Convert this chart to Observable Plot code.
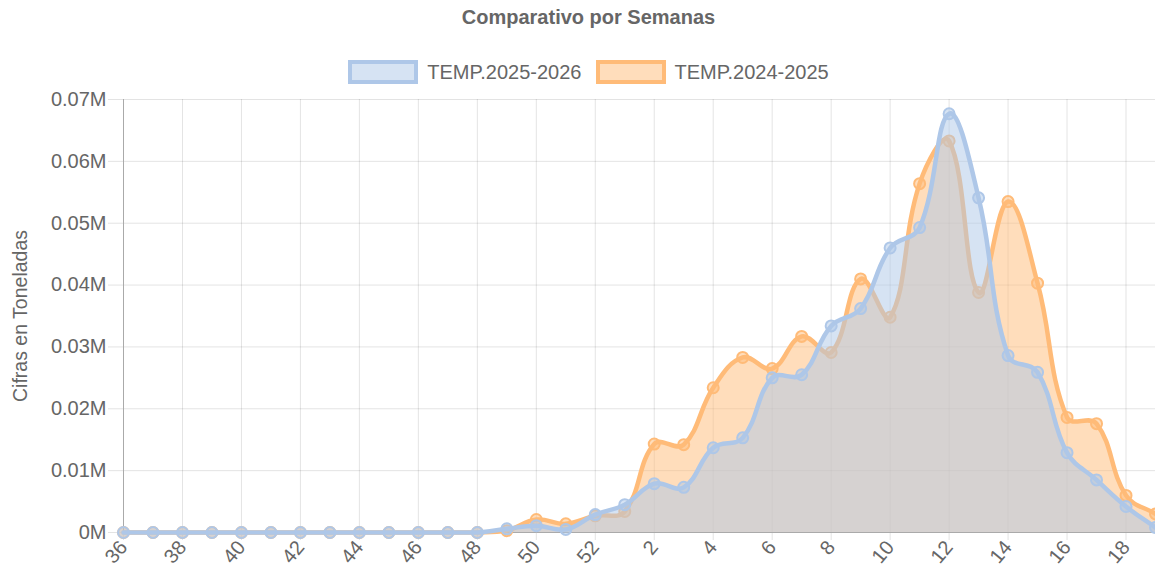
<!DOCTYPE html>
<html><head><meta charset="utf-8">
<script src="https://cdn.jsdelivr.net/npm/d3@7"></script>
<script src="https://cdn.jsdelivr.net/npm/@observablehq/plot@0.6"></script>
<style>
html,body{margin:0;padding:0;background:#fff;}
body{width:1155px;height:569px;overflow:hidden;font-family:'Liberation Sans',Arial,sans-serif;}
#title{height:34px;line-height:34px;text-align:center;font-weight:bold;font-size:20px;color:#666;padding-left:22px;}
#legend{height:40px;margin-top:18px;display:flex;justify-content:center;align-items:center;gap:14px;padding-left:22px;font-size:20px;color:#666;}
.item{display:flex;align-items:center;gap:9px;}
.sw{width:62px;height:16px;border:4px solid;}
#chart svg{display:block;}
</style>
</head><body>
<div id="title">Comparativo por Semanas</div>
<div id="legend"></div>
<div id="chart"></div>
<script>
// ---- data ----
const weeks = [36,37,38,39,40,41,42,43,44,45,46,47,48,49,50,51,52,1,2,3,4,5,6,7,8,9,10,11,12,13,14,15,16,17,18,19];
const temp2526 = [0,0,0,0,0,0,0,0,0,0,0,0,0,600,1100,500,2900,4500,7900,7300,13700,15300,25000,25500,33400,36200,46000,49300,67700,54100,28600,25900,12900,8500,4200,800];
const temp2425 = [0,0,0,0,0,0,0,0,0,0,0,0,0,300,2100,1400,2700,3400,14300,14200,23400,28300,26500,31700,29100,41000,34800,56400,63300,38800,53500,40300,18600,17600,6000,3000];
const seriesNames = ["TEMP.2025-2026","TEMP.2024-2025"];
const yTicks = [0,10000,20000,30000,40000,50000,60000,70000];
const xTickIdx = weeks.map((d,i)=>i).filter(i=>i%2===0);
const yLabel = "Cifras en Toneladas";

const colors = {
  line: ["#aec7e8","#ffbb78"],
  fill: ["rgba(174,199,232,0.5)","rgba(255,187,120,0.5)"]
};

// legend
const leg = document.getElementById("legend");
seriesNames.forEach((n,i)=>{
  const it = document.createElement("div"); it.className="item";
  const sw = document.createElement("span"); sw.className="sw";
  sw.style.borderColor = colors.line[i]; sw.style.background = colors.fill[i];
  const tx = document.createElement("span"); tx.textContent = n;
  it.appendChild(sw); it.appendChild(tx); leg.appendChild(it);
});

const W=1155, H=477, mt=7, mb=37, ml=123, mr=0;

// Chart.js-like spline (tension 0.4) with control points capped to chart area
function chartjsCurve(tension){
  const minX=ml, maxX=W-mr, minY=mt, maxY=H-mb;
  const cx = v=>Math.max(minX,Math.min(maxX,v));
  const cy = v=>Math.max(minY,Math.min(maxY,v));
  return (context)=>{
    let pts, line;
    return {
      areaStart(){ line = 0; },
      areaEnd(){ line = NaN; },
      lineStart(){ pts = []; },
      point(x,y){ pts.push([+x,+y]); },
      lineEnd(){
        const n = pts.length;
        if (n){
          if (line) context.lineTo(pts[0][0],pts[0][1]); else context.moveTo(pts[0][0],pts[0][1]);
          const cps = pts.map((p,i)=>{
            const pr = pts[Math.max(0,i-1)], nx = pts[Math.min(n-1,i+1)];
            const d01 = Math.hypot(p[0]-pr[0],p[1]-pr[1]);
            const d12 = Math.hypot(nx[0]-p[0],nx[1]-p[1]);
            let s01 = d01/(d01+d12), s12 = d12/(d01+d12);
            if (!isFinite(s01)) s01=0; if (!isFinite(s12)) s12=0;
            const fa = tension*s01, fb = tension*s12;
            return {
              a:[cx(p[0]-fa*(nx[0]-pr[0])), cy(p[1]-fa*(nx[1]-pr[1]))],
              b:[cx(p[0]+fb*(nx[0]-pr[0])), cy(p[1]+fb*(nx[1]-pr[1]))]
            };
          });
          for (let i=1;i<n;i++) context.bezierCurveTo(cps[i-1].b[0],cps[i-1].b[1],cps[i].a[0],cps[i].a[1],pts[i][0],pts[i][1]);
        }
        if (line || (line !== 0 && n === 1)) context.closePath();
        line = 1 - line;
      }
    };
  };
}
const curve = chartjsCurve(0.4);

const data = weeks.map((w,i)=>({i, week:w, a:temp2526[i], b:temp2425[i]}));
const fmtY = d => (d/1e6) + "M";

const chart = Plot.plot({
  width:W, height:H, marginTop:mt, marginBottom:mb, marginLeft:ml, marginRight:mr,
  style:{fontFamily:"'Liberation Sans', Arial, sans-serif", fontSize:"20px", color:"#666", background:"#fff", overflow:"visible"},
  x:{type:"linear", domain:[0, weeks.length-1], range:[ml, W-mr]},
  y:{domain:[0,70000], range:[H-mb, mt]},
  marks:[
    Plot.gridY(yTicks, {stroke:"#000", strokeOpacity:0.11}),
    Plot.gridX(xTickIdx, {stroke:"#000", strokeOpacity:0.11}),
    Plot.axisY({ticks:yTicks, tickFormat:fmtY, tickSize:15, tickPadding:2, stroke:"#e3e3e3", fill:"#666", fontSize:20, label:null}),
    Plot.axisX({ticks:xTickIdx, tickFormat:i=>String(weeks[i]), tickSize:8, tickPadding:3, tickRotate:-50, stroke:"#e3e3e3", fill:"#666", fontSize:20, label:null}),
    Plot.text([yLabel], {frameAnchor:"left", dx:-103, rotate:-90, textAnchor:"middle", fill:"#666", fontSize:19.5}),
    Plot.ruleX([0], {stroke:"#aaa", strokeWidth:1}),
    Plot.ruleY([0], {stroke:"#aaa", strokeWidth:1}),
    // 2024-2025 drawn first (underneath)
    Plot.areaY(data, {x:"i", y:"b", fill:colors.fill[1], curve}),
    Plot.lineY(data, {x:"i", y:"b", stroke:colors.line[1], strokeWidth:4.5, curve}),
    Plot.dot(data, {x:"i", y:"b", r:5.5, fill:colors.fill[1], stroke:colors.line[1], strokeWidth:2}),
    // 2025-2026 on top
    Plot.areaY(data, {x:"i", y:"a", fill:colors.fill[0], curve}),
    Plot.lineY(data, {x:"i", y:"a", stroke:colors.line[0], strokeWidth:4.5, curve}),
    Plot.dot(data, {x:"i", y:"a", r:5.5, fill:colors.fill[0], stroke:colors.line[0], strokeWidth:2})
  ]
});
document.getElementById("chart").appendChild(chart);
</script>
</body></html>
